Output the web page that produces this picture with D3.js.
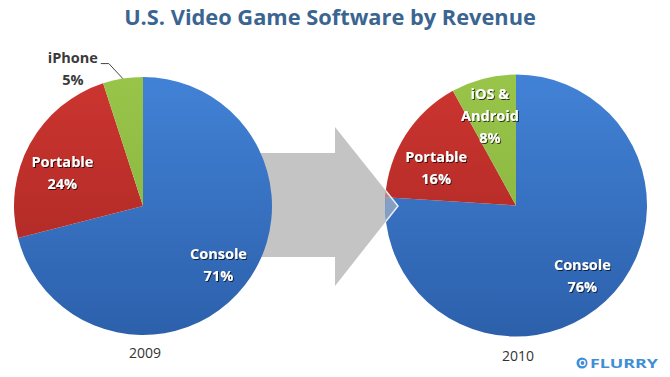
<!DOCTYPE html>
<html><head><meta charset="utf-8">
<script src="https://cdn.jsdelivr.net/npm/d3@7"></script>
<style>body{margin:0;background:#fff}</style>
</head><body>
<svg id="c" width="670" height="377"></svg>
<script>
const chartTitle = "U.S. Video Game Software by Revenue";
const years = ["2009", "2010"];
const categories2009 = ["Console", "Portable", "iPhone"];
const values2009 = [71, 24, 5];
const categories2010 = ["Console", "Portable", "iOS & Android"];
const values2010 = [76, 16, 8];

const svg = d3.select("#c");
const defs = svg.append("defs");

const palette = {
  Console: ["#4282d6", "#2c60ab"],
  Portable: ["#cc3530", "#a62622"],
  iPhone: ["#98c44a", "#86b03a"],
  "iOS & Android": ["#98c44a", "#86b03a"]
};
Object.entries(palette).forEach(([k, c], i) => {
  const g = defs.append("linearGradient").attr("id", "g" + i)
    .attr("gradientUnits", "userSpaceOnUse").attr("x1", 0).attr("x2", 0).attr("y1", -130).attr("y2", 130);
  g.append("stop").attr("offset", 0).attr("stop-color", c[0]);
  g.append("stop").attr("offset", 1).attr("stop-color", c[1]);
  palette[k].id = "g" + i;
});
const f = defs.append("filter").attr("id", "sh").attr("x", "-20%").attr("y", "-20%").attr("width", "140%").attr("height", "140%");
f.append("feDropShadow").attr("dx", 1).attr("dy", 1).attr("stdDeviation", 0.7)
  .attr("flood-color", "#000").attr("flood-opacity", 0.7);

// title
svg.append("text").attr("x", 330).attr("y", 25).attr("text-anchor", "middle")
  .attr("font-family", "Open Sans").attr("font-weight", "bold").attr("font-size", 21.8)
  .attr("fill", "#3b6591").text(chartTitle);

const pies = [
  { year: years[0], cats: categories2009, vals: values2009, cx: 143, cy: 206, r: 129, yearY: 358 },
  { year: years[1], cats: categories2010, vals: values2010, cx: 516, cy: 205.5, r: 131, yearY: 361 }
];

// arrow (behind pies)
const arrowPts = [[240,153],[335,153],[335,127],[398,206],[335,286],[335,257],[240,257]];
svg.append("polygon").attr("points", arrowPts.map(p => p.join(",")).join(" ")).attr("fill", "#c4c4c4");

const labelNudge = { "2009|Portable": [3, 13], "2010|Portable": [2, 14], "2010|iOS & Android": [-2, 4] };
const outside = { "2009|iPhone": true };
const lineH = 22;

pies.forEach(p => {
  const data = p.cats.map((c, i) => ({ cat: c, val: p.vals[i] }));
  const pie = d3.pie().sort(null).value(d => d.val);
  const arcs = pie(data);
  const arc = d3.arc().innerRadius(0).outerRadius(p.r);
  const lab = d3.arc().innerRadius(p.r * 0.74).outerRadius(p.r * 0.74);
  const g = svg.append("g").attr("transform", `translate(${p.cx},${p.cy})`);
  g.selectAll("path").data(arcs).join("path")
    .attr("d", arc).attr("fill", d => `url(#${palette[d.data.cat].id})`);

  arcs.forEach(a => {
    const key = p.year + "|" + a.data.cat;
    const pct = a.data.val + "%";
    const name = a.data.cat;
    const lines = name.includes("&") ? [name.split("&")[0].trim() + " &", name.split("&")[1].trim()] : [name];
    lines.push(pct);
    if (outside[key]) {
      const mid = (a.startAngle + a.endAngle) / 2;
      const px = Math.sin(mid) * p.r, py = -Math.cos(mid) * p.r;
      const ex = px - 14, ey = py - 15;
      g.append("path").attr("d", `M${px},${py}L${ex},${ey}L${ex - 8},${ey}`)
        .attr("fill", "none").attr("stroke", "#444").attr("stroke-width", 1);
      const tx = ex - 36;
      lines.forEach((t, i) => {
        g.append("text").attr("x", tx).attr("y", ey - 1 + i * lineH)
          .attr("text-anchor", "middle").attr("font-family", "Open Sans").attr("font-weight", "bold")
          .attr("font-size", 14.5).attr("fill", "#3a3a3a").text(t);
      });
    } else {
      const [cx0, cy0] = lab.centroid(a);
      const n = labelNudge[key] || [0, 0];
      const cx = cx0 + n[0], cy = cy0 + n[1];
      lines.forEach((t, i) => {
        g.append("text").attr("x", cx).attr("y", cy + (i - (lines.length - 1) / 2) * lineH + 5)
          .attr("text-anchor", "middle").attr("font-family", "Open Sans").attr("font-weight", "bold")
          .attr("font-size", 14.5).attr("fill", "#fff").attr("filter", "url(#sh)").text(t);
      });
    }
  });

  svg.append("text").attr("x", p.cx + 2).attr("y", p.yearY).attr("text-anchor", "middle")
    .attr("font-family", "Open Sans").attr("font-size", 14).attr("fill", "#333").text(p.year);
});

// translucent arrow head over right pie
const rp = pies[1];
defs.append("clipPath").attr("id", "rclip").append("circle").attr("cx", rp.cx).attr("cy", rp.cy).attr("r", rp.r);
svg.append("polygon").attr("points", "335,127 398,206 335,286").attr("clip-path", "url(#rclip)")
  .attr("fill", "#c4c4c4").attr("fill-opacity", 0.55).attr("stroke", "#e8eef6").attr("stroke-width", 1.5);

// logo
const logo = svg.append("g");
logo.append("circle").attr("cx", 582).attr("cy", 363).attr("r", 5.5).attr("fill", "#3d8ed6");
logo.append("circle").attr("cx", 582.5).attr("cy", 363).attr("r", 2.6).attr("fill", "none").attr("stroke", "#fff").attr("stroke-width", 1.4);
logo.append("text").attr("x", 590).attr("y", 367.5).attr("font-family", "Open Sans").attr("font-weight", "bold")
  .attr("font-size", 12.5).attr("fill", "#3d8ed6").attr("textLength", 68).attr("lengthAdjust", "spacingAndGlyphs").text("FLURRY");
</script>
</body></html>
